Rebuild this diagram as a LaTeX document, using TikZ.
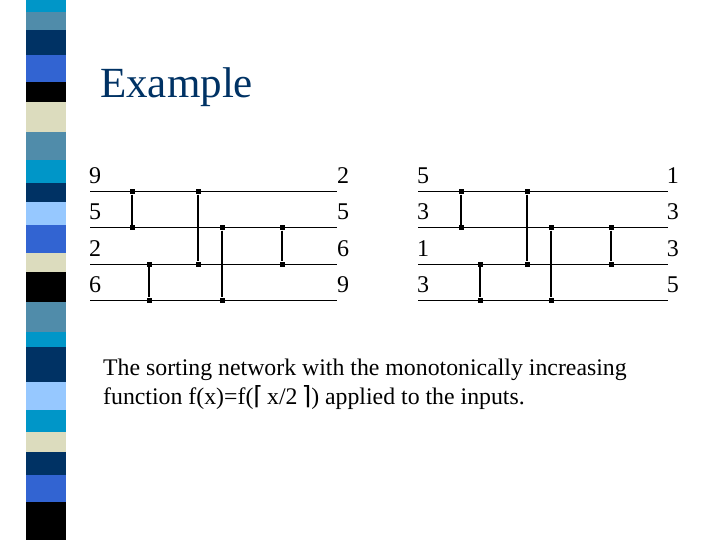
\documentclass[tikz,border=0pt]{standalone}
\usepackage{fontspec}
\setmainfont{Liberation Serif}
\newfontfamily\dv{DejaVu Sans}
\begin{document}
\begin{tikzpicture}[x=1pt,y=-1pt,
  wire/.style={line width=1pt},
  comp/.style={line width=1.8pt},
  dot/.style={fill,inner sep=0pt,minimum size=5pt},
  num/.style={font=\fontsize{24}{24}\selectfont,inner sep=0pt,anchor=base west},
  numr/.style={font=\fontsize{24}{24}\selectfont,inner sep=0pt,anchor=base east}]
\useasboundingbox (0,0) rectangle (720,540);
\definecolor{cyanb}{RGB}{0,150,200}
\definecolor{steel}{RGB}{80,140,170}
\definecolor{navy}{RGB}{0,50,100}
\definecolor{royal}{RGB}{50,100,210}
\definecolor{beige}{RGB}{220,220,190}
\definecolor{lblue}{RGB}{150,200,255}
\foreach \a/\b/\c in {0/12/cyanb,12/30/steel,30/55/navy,55/82/royal,82/102/black,102/132/beige,132/160/steel,160/183/cyanb,183/202/navy,202/225/lblue,225/253/royal,253/272/beige,272/302/black,302/332/steel,332/347/cyanb,347/382/navy,382/410/lblue,410/432/cyanb,432/452/beige,452/475/navy,475/502/royal,502/540/black}
  \fill[\c] (26,\a) rectangle (66,\b);
\node[anchor=base west,inner sep=0pt,text=navy,font=\fontsize{43}{43}\selectfont] (title) at (100,98) {Example};
% left network
\foreach \i/\y in {1/192,2/228,3/264,4/300}{
  \coordinate (La\i) at (90,\y); \coordinate (Lb\i) at (337,\y);
  \draw[wire] (La\i) -- (Lb\i);
  \coordinate (Ra\i) at (418,\y); \coordinate (Rb\i) at (668,\y);
  \draw[wire] (Ra\i) -- (Rb\i);}
\foreach \x/\p/\q in {132/192/228,149/264/300,198/192/264,222/228/300,282/228/264,
                      461/192/228,480/264/300,527/192/264,551/228/300,611/228/264}{
  \node[dot] (t\x) at (\x,\p) {}; \node[dot] (u\x) at (\x,\q) {};
  \draw[comp] (t\x) -- (u\x);}
\foreach \v/\y [count=\k] in {9/184,5/220,2/256,6/292}
  \node[num] (l\k) at (89,\y) {\v};
\foreach \v/\y [count=\k] in {2/184,5/220,6/256,9/292}
  \node[num] (m\k) at (337,\y) {\v};
\foreach \v/\y [count=\k] in {5/184,3/220,1/256,3/292}
  \node[num] (n\k) at (417,\y) {\v};
\foreach \v/\y [count=\k] in {1/184,3/220,3/256,5/292}
  \node[numr] (o\k) at (679,\y) {\v};
\node[anchor=base west,inner sep=0pt,align=left,font=\fontsize{23.8}{28.5}\selectfont] (cap) at (103,404)
 {The sorting network with the monotonically increasing\\function f(x)=f({\dv\fontsize{25}{25}\selectfont⌈}\,x/2\,{\dv\fontsize{25}{25}\selectfont⌉}) applied to the inputs.};
\end{tikzpicture}
\end{document}
